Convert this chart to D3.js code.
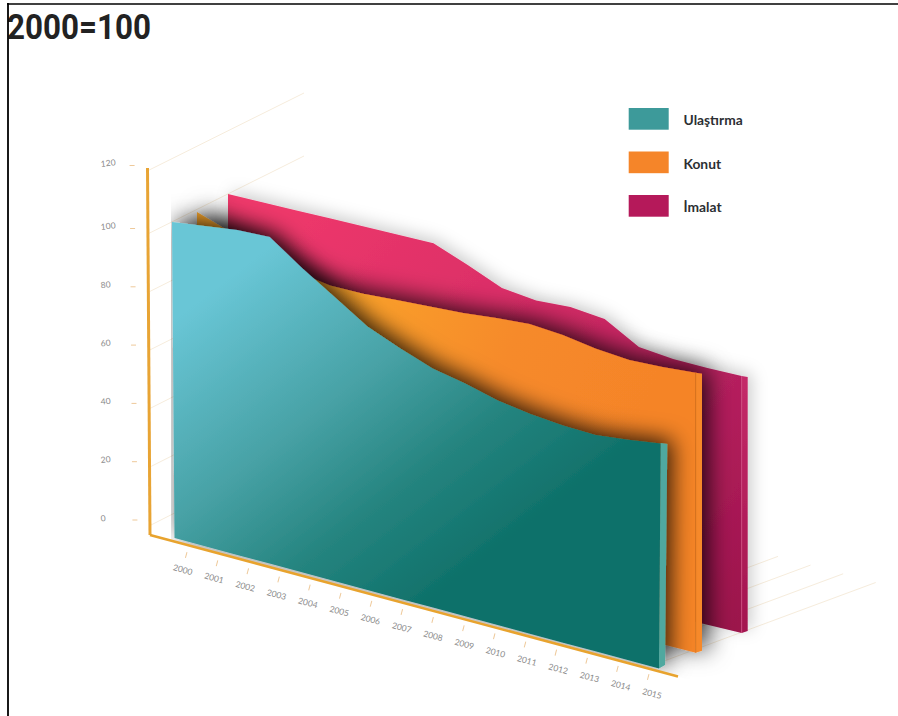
<!DOCTYPE html>
<html>
<head>
<meta charset="utf-8">
<script src="https://d3js.org/d3.v7.min.js"></script>
<style>
    html, body { margin: 0; padding: 0; background: #fff; }
    svg { display: block; }
</style>
</head>
<body>
<svg id="chartSvg" width="898" height="716"></svg>
<script>
var years = [2000, 2001, 2002, 2003, 2004, 2005, 2006, 2007, 2008, 2009, 2010, 2011, 2012, 2013, 2014, 2015];
var ulastirma = [100, 101.6, 103.1, 103.7, 96.2, 89.4, 82.6, 78.2, 74.4, 72.3, 69.5, 67.9, 67, 66.7, 68, 69.7];
var konut = [99.2, 95.3, 91.5, 87.7, 86, 86.1, 86.8, 87.5, 88.1, 89.3, 90.1, 89.3, 87.5, 86.6, 87.1, 88];
var imalat = [100, 100, 100, 100, 100, 100, 100, 95.5, 90.5, 89.1, 89.7, 88.4, 81.8, 80.5, 80.3, 80.3];
var yTicks = [0, 20, 40, 60, 80, 100, 120];
var legendNames = ["Ulaştırma", "Konut", "İmalat"];
var legendColors = ["#3d9a9a", "#f58529", "#b5195a"];

var svg = d3.select("#chartSvg");
var defs = svg.append("defs");

function addGradient(id, p, stops) {
    let g = defs.append("linearGradient").attr("id", id)
        .attr("gradientUnits", "userSpaceOnUse")
        .attr("x1", p[0]).attr("y1", p[1]).attr("x2", p[2]).attr("y2", p[3]);
    stops.forEach(function (s) {
        g.append("stop").attr("offset", s[0]).attr("stop-color", s[1]);
    });
}
function addShadow(id, dx, dy, blur, opacity) {
    defs.append("filter").attr("id", id)
        .attr("filterUnits", "userSpaceOnUse")
        .attr("x", 0).attr("y", 0).attr("width", 898).attr("height", 716)
        .append("feDropShadow")
        .attr("dx", dx).attr("dy", dy).attr("stdDeviation", blur)
        .attr("flood-color", "#000").attr("flood-opacity", opacity);
}
addGradient("gradU", [200, 300, 430, 600], [[0, "#69c6d6"], [0.42, "#48a2a6"], [0.72, "#25847f"], [1, "#0f716a"]]);
addGradient("gradK", [300, 280, 640, 420], [[0, "#fba82d"], [0.6, "#f68a2a"], [1, "#f58428"]]);
addGradient("gradI", [280, 220, 740, 620], [[0, "#ee386b"], [0.35, "#db2e67"], [0.7, "#b92160"], [1, "#9c134c"]]);
addGradient("gradISide", [0, 376, 0, 633], [[0, "#c42a68"], [1, "#a3154f"]]);
addShadow("shadowU", 5, -4, 11, 0.8);
addShadow("shadowK", 6, -3, 12, 0.82);
addShadow("shadowI", 4, -3, 8, 0.2);

// keeps the shadows off the left side and off the floor in front of the axis
defs.append("clipPath").attr("id", "shadowClip")
    .append("polygon").attr("points", "171,0 898,0 898,736 171,540");

// value -> plane height, the floor sits a little under the 0 mark
var hScale = d3.scaleLinear().domain([0, 100]).range([16, 316]);

// one plane per series, front to back
function makePlane(values, xTop, xBase, baseY, fill) {
    let topX = d3.scaleLinear().domain([2000, 2015]).range(xTop);
    let botX = d3.scaleLinear().domain([2000, 2015]).range(xBase);
    let floorX = d3.scaleLinear().domain([2000, 2015]).range(baseY);
    return { values: values, topX: topX, botX: botX, floorY: floorX, fill: fill };
}
var planeU = makePlane(ulastirma, [172, 660.7], [174.5, 659], [538, 668.5], "url(#gradU)");
var planeK = makePlane(konut, [197, 695.7], [197, 695.7], [525.5, 652.8], "url(#gradK)");
var planeI = makePlane(imalat, [228, 741.7], [228, 741.7], [510, 633], "url(#gradI)");

function planePath(p) {
    let area = d3.area()
        .x0(function (d, i) { return p.botX(years[i]); })
        .x1(function (d, i) { return p.topX(years[i]); })
        .y0(function (d, i) { return p.floorY(years[i]); })
        .y1(function (d, i) { return p.floorY(years[i]) - hScale(d); });
    return area(p.values);
}

//*****grid lines*****
var yAxisScale = d3.scaleLinear().domain([0, 100, 120]).range([519.5, 228, 165]);
var gridColor = "#f6ecdc";
svg.append("g").selectAll("line").data(yTicks).enter()
    .append("line")
    .attr("x1", function (d) { return 150 - (519.5 - yAxisScale(d)) * 0.008; })
    .attr("y1", function (d) { return yAxisScale(d) + 6; })
    .attr("x2", function (d) { return 304; })
    .attr("y2", function (d) { return yAxisScale(d) + 6 - 78; })
    .attr("stroke", gridColor).attr("stroke-width", 1);
svg.append("g").selectAll("line").data(years.slice(11)).enter()
    .append("line")
    .attr("x1", function (d) { return planeU.topX(d) + 2; })
    .attr("y1", function (d) { return planeU.floorY(d) - 7; })
    .attr("x2", function (d) { return planeU.topX(d) + 215; })
    .attr("y2", function (d) { return planeU.floorY(d) - 86; })
    .attr("stroke", gridColor).attr("stroke-width", 1);

//*****y axis*****
svg.append("line")
    .attr("x1", 147.5).attr("y1", 168).attr("x2", 150).attr("y2", 535)
    .attr("stroke", "#e8a434").attr("stroke-width", 3);

var yAxis = svg.append("g").attr("transform", "translate(136,0)")
    .call(d3.axisLeft(yAxisScale).tickValues(yTicks).tickSize(5).tickFormat(d3.format("d")));
yAxis.select(".domain").remove();
yAxis.selectAll(".tick line")
    .attr("stroke", "#eec99a").attr("stroke-width", 1)
    .attr("transform", function (d) { return "translate(" + (yAxisScale(d) - 342) * 0.008 + ",0)"; });
yAxis.selectAll(".tick text")
    .attr("x", -35).attr("dy", "0.1em")
    .attr("text-anchor", "start")
    .attr("transform", "rotate(-6 -30 0)")
    .attr("fill", "#8b8b8b")
    .style("font-family", "Lato").style("font-size", "8.5px");

//*****planes, back to front*****
function drawPlane(p, shadowId) {
    let g = svg.append("g").attr("clip-path", "url(#shadowClip)")
        .append("g").attr("filter", "url(#" + shadowId + ")");
    g.append("path").attr("d", planePath(p)).attr("fill", p.fill);
    return g;
}
function sidePoints(p, w) {
    let topY = p.floorY(2015) - hScale(p.values[15]);
    return [[p.topX(2015), topY], [p.topX(2015) + w, topY + 1],
        [p.botX(2015) + w, p.floorY(2015) - 2], [p.botX(2015), p.floorY(2015)]];
}

var gI = drawPlane(planeI, "shadowI");
gI.append("polygon").attr("points", sidePoints(planeI, 6).join(" ")).attr("fill", "url(#gradISide)");
gI.append("line").attr("x1", 741.7).attr("x2", 741.7)
    .attr("y1", planeI.floorY(2015) - hScale(imalat[15])).attr("y2", planeI.floorY(2015))
    .attr("stroke", "#d0497f").attr("stroke-width", 0.8);

var gK = drawPlane(planeK, "shadowK");
gK.append("polygon").attr("points", sidePoints(planeK, 6.3).join(" ")).attr("fill", "#f6892b");
gK.append("line").attr("x1", 695.7).attr("x2", 695.7)
    .attr("y1", planeK.floorY(2015) - hScale(konut[15])).attr("y2", planeK.floorY(2015))
    .attr("stroke", "#d4721e").attr("stroke-width", 0.8);

var gU = drawPlane(planeU, "shadowU");
gU.append("polygon").attr("points", [[660.7, 443], [667.3, 444], [665, 665], [659, 668.5]].join(" ")).attr("fill", "#4fa89f");

//*****x axis*****
svg.append("line")
    .attr("x1", 150).attr("y1", 535).attr("x2", 678).attr("y2", 676.5)
    .attr("stroke", "#e8a32e").attr("stroke-width", 2.6);

var xAngle = Math.atan(0.264);
var xLen = 462 / Math.cos(xAngle);
var xAxisScale = d3.scaleLinear().domain([2000, 2015]).range([0, xLen]);
var xAxis = svg.append("g")
    .attr("transform", "translate(186.5,552) rotate(" + (xAngle * 180 / Math.PI) + ")")
    .call(d3.axisBottom(xAxisScale).tickValues(years).tickSize(6).tickFormat(d3.format("d")));
xAxis.select(".domain").remove();
xAxis.selectAll(".tick line").attr("stroke", "#eec99a").attr("stroke-width", 1);
xAxis.selectAll(".tick text")
    .attr("x", function (d) { return 0.4 + (d - 2000) * 0.5; })
    .attr("y", 16).attr("dy", "0.6em")
    .attr("fill", "#8b8b8b")
    .style("font-family", "Lato").style("font-size", "8.5px");

//*****legend*****
var legendY = d3.scalePoint().domain(legendNames).range([108, 195]);
var legendG = svg.append("g");
legendG.selectAll("rect").data(legendNames).enter()
    .append("rect")
    .attr("x", 628.7).attr("y", function (d) { return legendY(d); })
    .attr("width", 40).attr("height", 21.7)
    .attr("fill", function (d, i) { return legendColors[i]; });
legendG.selectAll("text").data(legendNames).enter()
    .append("text")
    .attr("x", 683.5).attr("y", function (d) { return legendY(d) + 17; })
    .attr("fill", "#2c2f33")
    .style("font-family", "Lato").style("font-weight", 700).style("font-size", "13.8px")
    .text(function (d) { return d; });

//*****title and frame*****
svg.append("text").attr("x", 7).attr("y", 39)
    .attr("fill", "#222")
    .attr("textLength", 144).attr("lengthAdjust", "spacingAndGlyphs")
    .style("font-family", "Roboto").style("font-weight", 700).style("font-size", "35px")
    .text("2000=100");
svg.append("line").attr("x1", 7).attr("y1", 4).attr("x2", 898).attr("y2", 4)
    .attr("stroke", "#000").attr("stroke-width", 1.6);
svg.append("line").attr("x1", 8).attr("y1", 3).attr("x2", 8).attr("y2", 716)
    .attr("stroke", "#000").attr("stroke-width", 1.8);
</script>
</body>
</html>
